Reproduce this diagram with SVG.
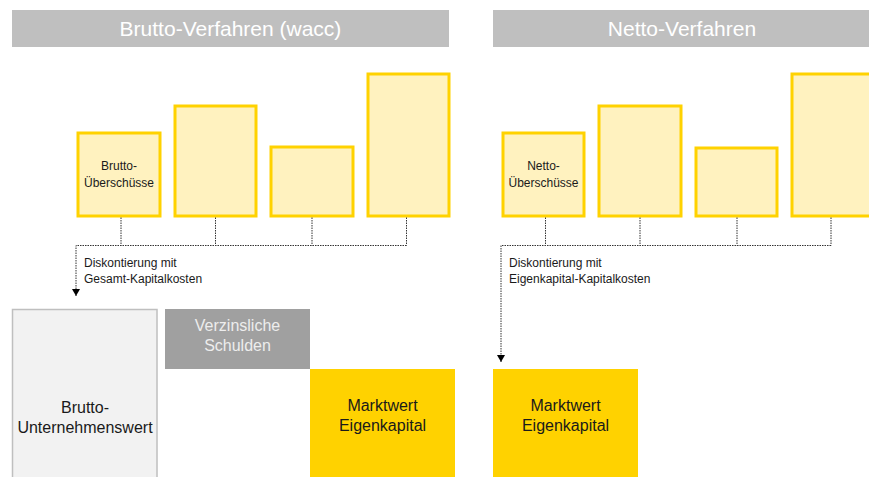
<svg xmlns="http://www.w3.org/2000/svg" width="869" height="477" viewBox="0 0 869 477">
<style>
.hdr{fill:#BFBFBF}
.hdrt{fill:#FFFFFF;font-family:"Liberation Sans",Arial,sans-serif;font-size:21px;text-anchor:middle}
.cf{fill:#FFF2BF;stroke:#FFD200;stroke-width:3}
.t{font-family:"Liberation Sans",Arial,sans-serif;fill:#1a1a1a}
.s{font-size:12px}
.m{font-size:16px;text-anchor:middle}
.c{stroke:#333;stroke-width:1;stroke-dasharray:1.5 1;fill:none}
</style>
<defs>
<marker id="ah" markerWidth="8" markerHeight="8" refX="7" refY="4" orient="auto" markerUnits="userSpaceOnUse" viewBox="0 0 8 8">
<path d="M0,0 L7,4 L0,8 Z" fill="#000"/>
</marker>
</defs>
<rect width="869" height="477" fill="#fff"/>
<g id="hdr-brutto"><rect class="hdr" x="12" y="10" width="437" height="37"/><text class="hdrt" x="230.5" y="36">Brutto-Verfahren (wacc)</text></g>
<g id="hdr-netto"><rect class="hdr" x="493" y="10" width="378" height="37"/><text class="hdrt" x="682" y="36">Netto-Verfahren</text></g>

<g id="b1"><rect class="cf" x="78" y="133" width="82" height="83"/><text class="t s" text-anchor="middle" x="119" y="170">Brutto-</text><text class="t s" text-anchor="middle" x="119" y="187">Überschüsse</text></g>
<g id="b2"><rect class="cf" x="175" y="106" width="81" height="110"/></g>
<g id="b3"><rect class="cf" x="271" y="147" width="82" height="69"/></g>
<g id="b4"><rect class="cf" x="368" y="74" width="81" height="142"/></g>

<g id="n1"><rect class="cf" x="503" y="133" width="81" height="83"/><text class="t s" text-anchor="middle" x="543.5" y="170">Netto-</text><text class="t s" text-anchor="middle" x="543.5" y="187">Überschüsse</text></g>
<g id="n2"><rect class="cf" x="599" y="106" width="82" height="110"/></g>
<g id="n3"><rect class="cf" x="696" y="148" width="81" height="68"/></g>
<g id="n4"><rect class="cf" x="792" y="74" width="82" height="142"/></g>

<g id="connectors">
<path class="c" d="M121,217.5 V245.5 M215.5,217.5 V245.5 M312,217.5 V245.5 M406.5,217.5 V245.5 M406.5,245.5 H76 V296" marker-end="url(#ah)"/>
<path class="c" d="M545.5,217.5 V245.5 M640,217.5 V245.5 M737,217.5 V245.5 M831,217.5 V245.5 M831,245.5 H501 V362" marker-end="url(#ah)"/>
</g>

<g id="lbl-brutto"><text class="t s" x="84" y="267">Diskontierung mit</text><text class="t s" x="84" y="283">Gesamt-Kapitalkosten</text></g>
<g id="lbl-netto"><text class="t s" x="509" y="267">Diskontierung mit</text><text class="t s" x="509" y="283">Eigenkapital-Kapitalkosten</text></g>

<g id="uw"><rect x="12.5" y="309.5" width="144.5" height="175" fill="#F2F2F2" stroke="#BFBFBF" stroke-width="1.5"/><text class="t m" x="85" y="413">Brutto-</text><text class="t m" x="85" y="433">Unternehmenswert</text></g>
<g id="schulden"><rect x="165" y="309" width="145" height="60" fill="#A0A0A0"/><text class="t m" x="237.5" y="331" style="fill:#EDEDED">Verzinsliche</text><text class="t m" x="237.5" y="351" style="fill:#EDEDED">Schulden</text></g>
<g id="ek1"><rect x="310" y="369" width="145" height="110" fill="#FFD200"/><text class="t m" x="382.5" y="411">Marktwert</text><text class="t m" x="382.5" y="431">Eigenkapital</text></g>
<g id="ek2"><rect x="493" y="369" width="145" height="110" fill="#FFD200"/><text class="t m" x="565.5" y="411">Marktwert</text><text class="t m" x="565.5" y="431">Eigenkapital</text></g>
</svg>
